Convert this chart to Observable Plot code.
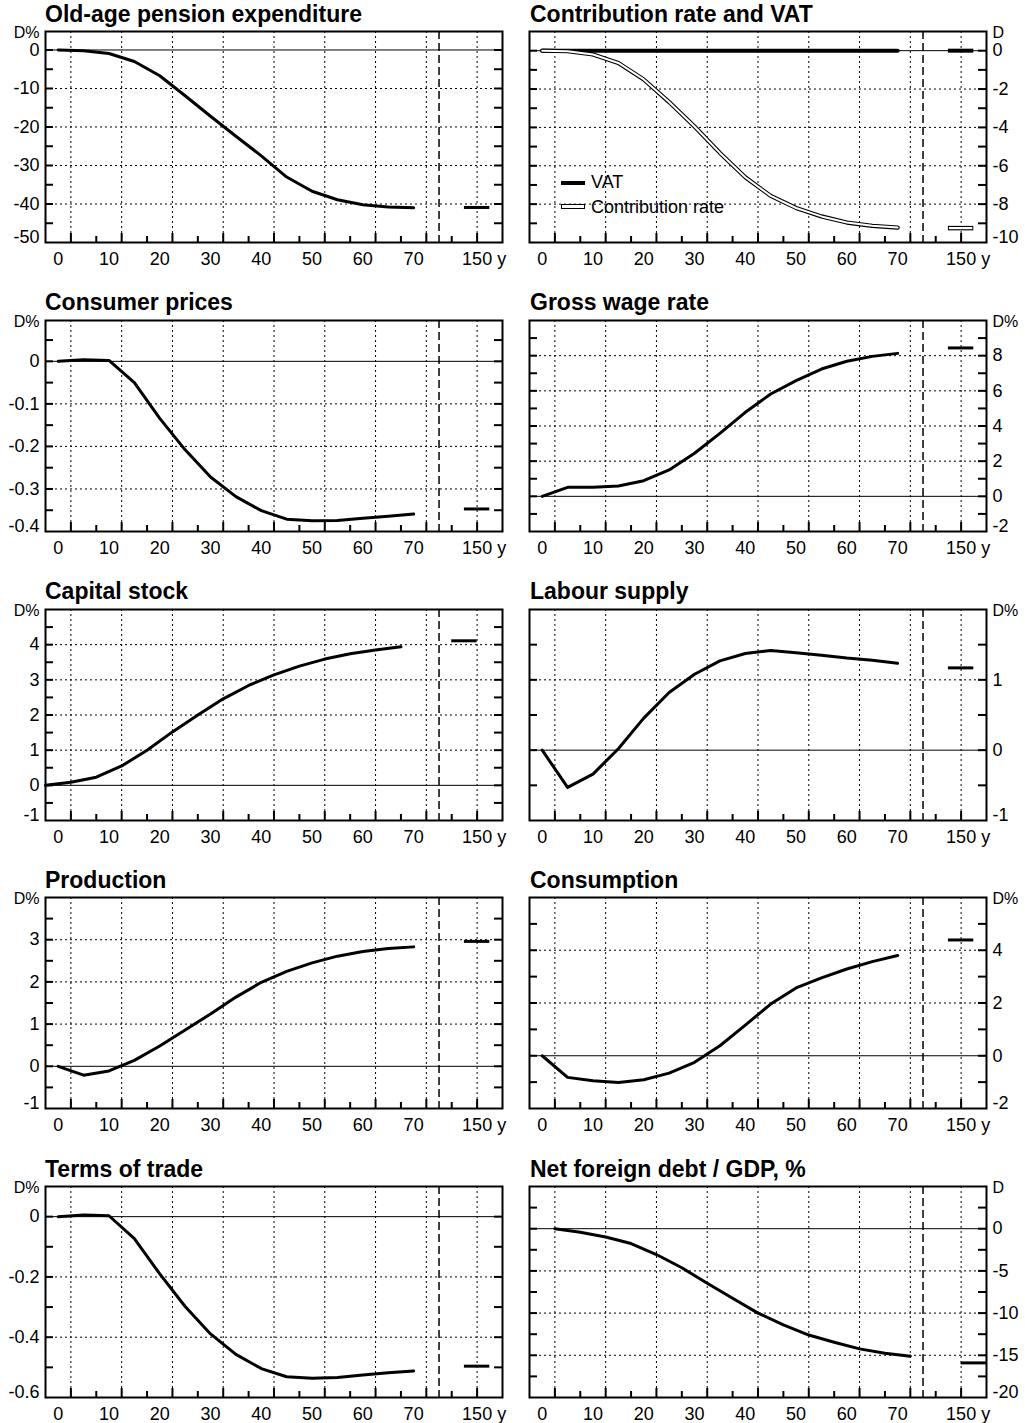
<!DOCTYPE html>
<html>
<head>
<meta charset="utf-8">
<script src="https://cdn.jsdelivr.net/npm/d3@7"></script>
<script src="https://cdn.jsdelivr.net/npm/@observablehq/plot@0.6"></script>
<style>
  html, body { margin: 0; padding: 0; background: #fff; }
  #root { position: relative; width: 1025px; height: 1423px; background: #fff;
          font-family: "Liberation Sans", Arial, Helvetica, sans-serif; color: #000; overflow: hidden; }
  .title { position: absolute; font-weight: bold; font-size: 23px; line-height: 23px; white-space: nowrap; }
  .legtext { position: absolute; font-size: 18px; line-height: 18px; white-space: nowrap; }
  .legline { position: absolute; box-sizing: border-box; }
</style>
</head>
<body>
<div id="root"></div>
<script>
// ---------- shared axis data ----------
const years        = [0, 5, 10, 15, 20, 25, 30, 35, 40, 45, 50, 55, 60, 65, 70];
const capitalYears = [-2.5, 2.5, 7.5, 12.5, 17.5, 22.5, 27.5, 32.5, 37.5, 42.5, 47.5, 52.5, 57.5, 62.5, 67.5];
const debtYears    = [2.5, 7.5, 12.5, 17.5, 22.5, 27.5, 32.5, 37.5, 42.5, 47.5, 52.5, 57.5, 62.5, 67.5, 72.5];
const xLabelYears  = [0, 10, 20, 30, 40, 50, 60, 70];
const xLabels      = ["0", "10", "20", "30", "40", "50", "60", "70"];
const longRunLabel = "150 y";
const longRunLabelPos = 82.5;
const longRunSpan        = [80, 85];
const capitalLongRunSpan = [77.5, 82.5];
const debtLongRunSpan    = [82.5, 87.5];
const separatorYear = 75;
const xDomain = [-2.5, 87.5];
const gridXs       = [2.5, 12.5, 22.5, 32.5, 42.5, 52.5, 62.5, 72.5, 82.5];
const minorXTicks  = [7.5, 17.5, 27.5, 37.5, 47.5, 57.5, 67.5, 77.5];

// ---------- series values ----------
const pension      = [0, -0.2, -0.9, -3.0, -6.7, -11.9, -17.2, -22.4, -27.5, -33.0, -36.7, -38.9, -40.2, -40.8, -41.0];
const pension150   = -40.9;
const contribution = [0, -0.03, -0.2, -0.64, -1.5, -2.68, -3.95, -5.33, -6.6, -7.57, -8.2, -8.64, -8.96, -9.13, -9.22];
const contribution150 = -9.25;
const vat          = [0, 0, 0, 0, 0, 0, 0, 0, 0, 0, 0, 0, 0, 0, 0];
const vat150       = 0;
const consumerPrices = [0, 0.004, 0.002, -0.05, -0.134, -0.208, -0.272, -0.318, -0.351, -0.371, -0.375, -0.374, -0.369, -0.364, -0.359];
const consumerPrices150 = -0.347;
const grossWage    = [0, 0.51, 0.51, 0.59, 0.89, 1.5, 2.45, 3.58, 4.78, 5.82, 6.58, 7.24, 7.68, 7.96, 8.13];
const grossWage150 = 8.44;
const capitalStock = [0, 0.085, 0.23, 0.55, 1.0, 1.52, 2.0, 2.46, 2.84, 3.14, 3.39, 3.59, 3.74, 3.85, 3.94];
const capitalStock150 = 4.11;
const labourSupply = [0, -0.53, -0.34, 0.02, 0.455, 0.82, 1.08, 1.27, 1.375, 1.418, 1.385, 1.35, 1.31, 1.28, 1.235];
const labourSupply150 = 1.17;
const production   = [0, -0.21, -0.11, 0.14, 0.48, 0.86, 1.24, 1.64, 1.99, 2.25, 2.45, 2.61, 2.72, 2.79, 2.83];
const production150 = 2.96;
const consumption  = [0, -0.82, -0.95, -1.01, -0.91, -0.66, -0.25, 0.38, 1.16, 1.96, 2.57, 2.95, 3.29, 3.57, 3.80];
const consumption150 = 4.39;
const termsOfTrade = [0, 0.0055, 0.003, -0.073, -0.19, -0.298, -0.389, -0.457, -0.504, -0.531, -0.536, -0.534, -0.525, -0.518, -0.512];
const termsOfTrade150 = -0.496;
const foreignDebt  = [0, -0.43, -0.98, -1.76, -3.06, -4.63, -6.47, -8.24, -10.0, -11.4, -12.6, -13.45, -14.24, -14.75, -15.1];
const foreignDebt150 = -15.9;

// ---------- y tick labels per panel ----------
const pensionTicks      = [-50, -40, -30, -20, -10, 0];
const contributionTicks = [-10, -8, -6, -4, -2, 0];
const consumerTicks     = [-0.4, -0.3, -0.2, -0.1, 0];
const grossWageTicks    = [-2, 0, 2, 4, 6, 8];
const capitalTicks      = [-1, 0, 1, 2, 3, 4];
const labourTicks       = [-1, 0, 1];
const productionTicks   = [-1, 0, 1, 2, 3];
const consumptionTicks  = [-2, 0, 2, 4];
const totTicks          = [-0.6, -0.4, -0.2, 0];
const debtTicks         = [-20, -15, -10, -5, 0];

const titles = ["Old-age pension expenditure", "Contribution rate and VAT", "Consumer prices", "Gross wage rate",
  "Capital stock", "Labour supply", "Production", "Consumption", "Terms of trade", "Net foreign debt / GDP, %"];

// ---------- panel table ----------
const rows = (xs, ys) => xs.map((x, i) => ({x, y: ys[i]}));
const panels = [
  {title: titles[0], unit: "D%", domain: [-50, 4.8], step: 5, labels: pensionTicks,
   series: [{data: rows(years, pension), lr: [longRunSpan, pension150], kind: "solid"}]},
  {title: titles[1], unit: "D", domain: [-10, 1], step: 1, labels: contributionTicks, legend: true,
   series: [{data: rows(years, vat), lr: [longRunSpan, vat150], kind: "thick"},
            {data: rows(years, contribution), lr: [longRunSpan, contribution150], kind: "double"}]},
  {title: titles[2], unit: "D%", domain: [-0.4, 0.096], step: 0.05, labels: consumerTicks,
   series: [{data: rows(years, consumerPrices), lr: [longRunSpan, consumerPrices150], kind: "solid"}]},
  {title: titles[3], unit: "D%", domain: [-2, 10], step: 1, labels: grossWageTicks,
   series: [{data: rows(years, grossWage), lr: [longRunSpan, grossWage150], kind: "solid"}]},
  {title: titles[4], unit: "D%", domain: [-1, 5], step: 0.5, labels: capitalTicks,
   series: [{data: rows(capitalYears, capitalStock), lr: [capitalLongRunSpan, capitalStock150], kind: "solid"}]},
  {title: titles[5], unit: "D%", domain: [-1, 2], step: 0.5, labels: labourTicks,
   series: [{data: rows(years, labourSupply), lr: [longRunSpan, labourSupply150], kind: "solid"}]},
  {title: titles[6], unit: "D%", domain: [-1, 4], step: 0.5, labels: productionTicks,
   series: [{data: rows(years, production), lr: [longRunSpan, production150], kind: "solid"}]},
  {title: titles[7], unit: "D%", domain: [-2, 6], step: 1, labels: consumptionTicks,
   series: [{data: rows(years, consumption), lr: [longRunSpan, consumption150], kind: "solid"}]},
  {title: titles[8], unit: "D%", domain: [-0.6, 0.1], step: 0.1, labels: totTicks,
   series: [{data: rows(years, termsOfTrade), lr: [longRunSpan, termsOfTrade150], kind: "solid"}]},
  {title: titles[9], unit: "D", domain: [-20, 5], step: 2.5, labels: debtTicks,
   series: [{data: rows(debtYears, foreignDebt), lr: [debtLongRunSpan, foreignDebt150], kind: "solid"}]}
];

const root = document.getElementById("root");
const FONT = '"Liberation Sans", Arial, Helvetica, sans-serif';
const fmt = d => String(+d.toFixed(3));

function seriesMarks(s) {
  const lrData = [{x1: s.lr[0][0], x2: s.lr[0][1], y: s.lr[1]}];
  if (s.kind === "double") {
    return [
      Plot.line(s.data, {x: "x", y: "y", stroke: "black", strokeWidth: 4.2}),
      Plot.line(s.data, {x: "x", y: "y", stroke: "white", strokeWidth: 2}),
      Plot.ruleY(lrData, {x1: "x1", x2: "x2", y: "y", stroke: "black", strokeWidth: 4.5}),
      Plot.ruleY(lrData, {x1: "x1", x2: "x2", y: "y", stroke: "white", strokeWidth: 2.2, insetLeft: 1, insetRight: 1})
    ];
  }
  const w = s.kind === "thick" ? 4 : 3;
  return [
    Plot.line(s.data, {x: "x", y: "y", stroke: "black", strokeWidth: w}),
    Plot.ruleY(lrData, {x1: "x1", x2: "x2", y: "y", stroke: "black", strokeWidth: w})
  ];
}

panels.forEach((p, idx) => {
  const col = idx % 2, row = Math.floor(idx / 2);
  const T = 31 + row * 288.75;
  const W = col ? 513 : 512;
  const mL = col ? 17 : 45, mR = col ? 39 : 10, mT = 14, mB = 34;
  const FH = 211, FW = W - mL - mR;
  const [lo, hi] = p.domain;
  const n0 = Math.ceil(lo / p.step - 1e-9), n1 = Math.floor(hi / p.step + 1e-9);
  const minor = d3.range(n0, n1 + 1).map(i => +(i * p.step).toFixed(4)).filter(v => v > lo && v < hi);
  const gridY = p.labels.filter(v => v !== 0 && v !== lo);
  const labMain = p.labels.filter(v => v !== lo);
  const labBottom = p.labels.filter(v => v === lo);
  const side = col ? "right" : "left";
  const tAnchor = col ? "start" : "end";
  const ddx = col ? 6 : -6;
  const xLab = xLabelYears.map((x, i) => ({x, label: xLabels[i]}));

  const marks = [
    Plot.ruleX(gridXs, {stroke: "black", strokeWidth: 1, strokeDasharray: "2,3"}),
    Plot.ruleY(gridY, {stroke: "black", strokeWidth: 1, strokeDasharray: "2,3"}),
    Plot.ruleY([0], {stroke: "black", strokeWidth: 1}),
    Plot.ruleX([separatorYear], {stroke: "black", strokeWidth: 1.5, strokeDasharray: "8,4"}),
    ...p.series.flatMap(seriesMarks),
    Plot.ruleY(minor, {stroke: "black", strokeWidth: 2, insetRight: FW - 8}),
    Plot.ruleY(minor, {stroke: "black", strokeWidth: 2, insetLeft: FW - 8}),
    Plot.ruleX(gridXs, {stroke: "black", strokeWidth: 2, insetTop: FH - 9}),
    Plot.ruleX(minorXTicks, {stroke: "black", strokeWidth: 2, insetTop: FH - 6}),
    Plot.frame({stroke: "black", strokeWidth: 2}),
    Plot.text(labMain, {y: d => d, text: fmt, frameAnchor: side, textAnchor: tAnchor, dx: ddx, fontSize: 18}),
    Plot.text(labBottom, {y: d => d, text: fmt, frameAnchor: side, textAnchor: tAnchor, dx: ddx, dy: -5, fontSize: 18}),
    Plot.text([p.unit], {text: d => d, frameAnchor: col ? "top-right" : "top-left", textAnchor: tAnchor, dx: ddx, dy: -4.5, fontSize: 16}),
    Plot.text(xLab, {x: "x", text: "label", frameAnchor: "bottom", lineAnchor: "top", dy: 10, fontSize: 18}),
    Plot.text([{x: longRunLabelPos, label: longRunLabel}], {x: "x", text: "label", frameAnchor: "bottom", lineAnchor: "top", textAnchor: "start", dx: -15, dy: 10, fontSize: 18})
  ];

  const svg = Plot.plot({
    width: W, height: mT + FH + mB,
    marginTop: mT, marginBottom: mB, marginLeft: mL, marginRight: mR,
    x: {domain: xDomain, axis: null},
    y: {domain: p.domain, axis: null},
    style: {fontFamily: FONT, fontSize: "18px", background: "transparent", color: "black", overflow: "visible"},
    marks
  });
  svg.style.position = "absolute";
  svg.style.left = (col ? 512 : 0) + "px";
  svg.style.top = (T - mT) + "px";
  root.appendChild(svg);

  const t = document.createElement("div");
  t.className = "title";
  t.textContent = p.title;
  t.style.left = (col ? 530 : 45) + "px";
  t.style.top = (T - 28.5) + "px";
  root.appendChild(t);

  if (p.legend) {
    const items = [
      {label: "VAT", top: 180.5, h: 4, bg: "#000", border: "none", textTop: 173},
      {label: "Contribution rate", top: 203.5, h: 5, bg: "#fff", border: "1px solid #000", textTop: 198}
    ];
    items.forEach(it => {
      const s = document.createElement("div");
      s.className = "legline";
      Object.assign(s.style, {left: "561px", top: it.top + "px", width: "24px", height: it.h + "px", background: it.bg, border: it.border});
      root.appendChild(s);
      const tx = document.createElement("div");
      tx.className = "legtext";
      tx.textContent = it.label;
      Object.assign(tx.style, {left: "591px", top: it.textTop + "px"});
      root.appendChild(tx);
    });
  }
});
</script>
</body>
</html>
